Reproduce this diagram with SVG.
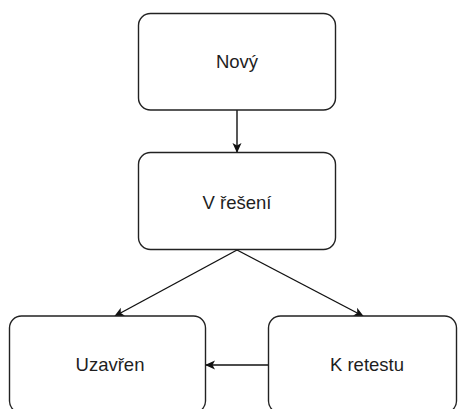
<svg xmlns="http://www.w3.org/2000/svg" width="458" height="409" viewBox="0 0 458 409">
  <style>
    .box { fill: #ffffff; stroke: #222222; stroke-width: 1.4; }
    .lbl { font-family: "Liberation Sans", Arial, sans-serif; font-size: 18.5px; fill: #1e1e1e; text-anchor: middle; }
    .edge { fill: none; stroke: #111111; stroke-width: 1.4; }
  </style>
  <defs>
    <marker id="arrow" viewBox="0 0 10 10" refX="9" refY="5" markerWidth="10" markerHeight="10" markerUnits="userSpaceOnUse" orient="auto">
      <path d="M0,0.5 L10,5 L0,9.5 L2.5,5 Z" fill="#111111"/>
    </marker>
  </defs>
  <rect width="458" height="409" fill="#ffffff"/>

  <g id="connectors">
    <line class="edge" x1="237" y1="110" x2="237" y2="152" marker-end="url(#arrow)"/>
    <line class="edge" x1="237" y1="250" x2="115" y2="316" marker-end="url(#arrow)"/>
    <line class="edge" x1="237" y1="250" x2="363" y2="316" marker-end="url(#arrow)"/>
    <line class="edge" x1="268.5" y1="365" x2="206" y2="365" marker-end="url(#arrow)"/>
  </g>

  <g id="node-novy">
    <rect class="box" x="138.5" y="13.5" width="197" height="96.5" rx="12"/>
    <text class="lbl" x="237" y="68">Nový</text>
  </g>

  <g id="node-v-reseni">
    <rect class="box" x="138.5" y="152.5" width="197" height="97" rx="12"/>
    <text class="lbl" x="237" y="209">V řešení</text>
  </g>

  <g id="node-uzavren">
    <rect class="box" x="9.5" y="316" width="196" height="97" rx="12"/>
    <text class="lbl" x="110" y="371">Uzavřen</text>
  </g>

  <g id="node-k-retestu">
    <rect class="box" x="268.5" y="316" width="188" height="97" rx="12"/>
    <text class="lbl" x="367" y="371">K retestu</text>
  </g>
</svg>
